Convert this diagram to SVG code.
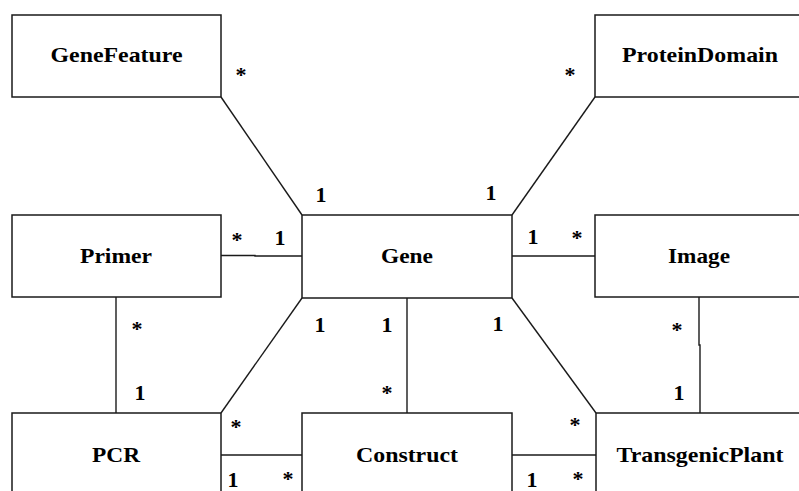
<svg xmlns="http://www.w3.org/2000/svg" width="799" height="491" viewBox="0 0 799 491">
<style>
  .box { fill: #fff; stroke: #1a1a1a; stroke-width: 1.5; }
  .lbl { font-family: 'Liberation Serif', 'Times New Roman', serif; font-weight: 700; font-size: 22px; fill: #000; text-anchor: middle; }
  .m { font-family: 'Liberation Serif', 'Times New Roman', serif; font-weight: 700; font-size: 22px; fill: #000; text-anchor: middle; }
  .conn { fill: none; stroke: #1a1a1a; stroke-width: 1.4; }
</style>
<rect width="799" height="491" fill="#fff"/>
<g id="connectors">
  <line class="conn" x1="221" y1="97" x2="302" y2="215"/>
  <line class="conn" x1="595" y1="97" x2="512" y2="215"/>
  <polyline class="conn" points="221,255.5 255,255.5 255,256 302,256"/>
  <line class="conn" x1="512" y1="256" x2="595" y2="256"/>
  <line class="conn" x1="116" y1="297" x2="116" y2="413"/>
  <line class="conn" x1="302" y1="298" x2="221" y2="413"/>
  <line class="conn" x1="407" y1="298" x2="407" y2="413"/>
  <line class="conn" x1="512" y1="298" x2="596" y2="413"/>
  <polyline class="conn" points="699,297 699,345 700,345 700,413"/>
  <line class="conn" x1="221" y1="455" x2="302" y2="455"/>
  <line class="conn" x1="512" y1="455" x2="596" y2="455"/>
</g>
<g id="GeneFeature">
  <rect class="box" x="12" y="15" width="209" height="82"/>
  <text class="lbl" x="116.5" y="62" textLength="132" lengthAdjust="spacingAndGlyphs">GeneFeature</text>
</g>
<g id="ProteinDomain">
  <rect class="box" x="595" y="15" width="220" height="82"/>
  <text class="lbl" x="700" y="62" textLength="156" lengthAdjust="spacingAndGlyphs">ProteinDomain</text>
</g>
<g id="Primer">
  <rect class="box" x="12" y="215" width="209" height="82"/>
  <text class="lbl" x="116" y="263" textLength="72" lengthAdjust="spacingAndGlyphs">Primer</text>
</g>
<g id="Gene">
  <rect class="box" x="302" y="215" width="210" height="83"/>
  <text class="lbl" x="407" y="263" textLength="52" lengthAdjust="spacingAndGlyphs">Gene</text>
</g>
<g id="Image">
  <rect class="box" x="595" y="215" width="220" height="82"/>
  <text class="lbl" x="699" y="263" textLength="62" lengthAdjust="spacingAndGlyphs">Image</text>
</g>
<g id="PCR">
  <rect class="box" x="12" y="413" width="209" height="90"/>
  <text class="lbl" x="116" y="462" textLength="48" lengthAdjust="spacingAndGlyphs">PCR</text>
</g>
<g id="Construct">
  <rect class="box" x="302" y="413" width="210" height="90"/>
  <text class="lbl" x="407" y="462" textLength="102" lengthAdjust="spacingAndGlyphs">Construct</text>
</g>
<g id="TransgenicPlant">
  <rect class="box" x="596" y="413" width="220" height="90"/>
  <text class="lbl" x="700" y="462" textLength="167" lengthAdjust="spacingAndGlyphs">TransgenicPlant</text>
</g>
<g id="multiplicities">
  <text class="m" x="241" y="82">*</text>
  <text class="m" x="321" y="202">1</text>
  <text class="m" x="570" y="82">*</text>
  <text class="m" x="491" y="200">1</text>
  <text class="m" x="237" y="247">*</text>
  <text class="m" x="280" y="245">1</text>
  <text class="m" x="533" y="244">1</text>
  <text class="m" x="577" y="245">*</text>
  <text class="m" x="137" y="336">*</text>
  <text class="m" x="140" y="400">1</text>
  <text class="m" x="320" y="332">1</text>
  <text class="m" x="236" y="434">*</text>
  <text class="m" x="387" y="332">1</text>
  <text class="m" x="387" y="400">*</text>
  <text class="m" x="498" y="331">1</text>
  <text class="m" x="575" y="432">*</text>
  <text class="m" x="677" y="337">*</text>
  <text class="m" x="679" y="400">1</text>
  <text class="m" x="233" y="487">1</text>
  <text class="m" x="288" y="486">*</text>
  <text class="m" x="532" y="487">1</text>
  <text class="m" x="578" y="486">*</text>
</g>
</svg>
